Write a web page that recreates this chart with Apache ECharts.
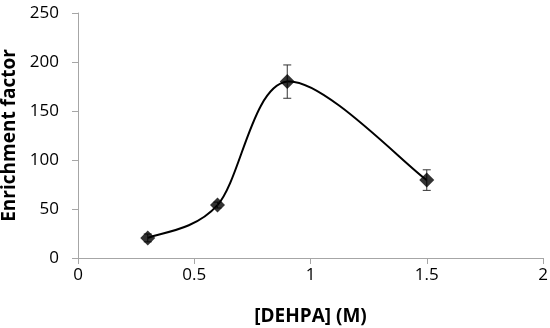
<!DOCTYPE html>
<html>
<head>
<meta charset="utf-8">
<script src="https://cdn.jsdelivr.net/npm/echarts@6/dist/echarts.min.js"></script>
<style>html,body{margin:0;padding:0;background:#fff}#c{width:550px;height:328px}</style>
</head>
<body>
<div id="c"></div>
<script>
var xValues = [0.3, 0.6, 0.9, 1.5];
var yValues = [20.5, 54, 180, 79.5];
var yErrors = [4, 3, 17, 10.5];
var xTicks = [0, 0.5, 1, 1.5, 2];
var yTicks = [0, 50, 100, 150, 200, 250];

var lineData = xValues.map(function (x, i) { return [x, yValues[i]]; });
var errData = xValues.map(function (x, i) { return [x, yValues[i] - yErrors[i], yValues[i] + yErrors[i]]; });

var chart = echarts.init(document.getElementById('c'));
var font = 'Open Sans';

// Excel-style smoothed line: cubic Bezier through the data points (Catmull-Rom tangents)
function renderCurve(params, api) {
  if (params.dataIndex !== 0) return null;
  var pts = lineData.map(function (d) { return api.coord(d); });
  var n = pts.length;
  var path = 'M' + pts[0][0] + ' ' + pts[0][1];
  for (var i = 0; i < n - 1; i++) {
    var p0 = pts[Math.max(i - 1, 0)], p1 = pts[i], p2 = pts[i + 1], p3 = pts[Math.min(i + 2, n - 1)];
    var c1x = p1[0] + (p2[0] - p0[0]) / 6, c1y = p1[1] + (p2[1] - p0[1]) / 6;
    var c2x = p2[0] - (p3[0] - p1[0]) / 6, c2y = p2[1] - (p3[1] - p1[1]) / 6;
    path += ' C' + c1x + ' ' + c1y + ' ' + c2x + ' ' + c2y + ' ' + p2[0] + ' ' + p2[1];
  }
  return { type: 'path', shape: { pathData: path }, style: { stroke: '#000', lineWidth: 2, fill: null } };
}

chart.setOption({
  animation: false,
  grid: { left: 78, right: 7, top: 13, bottom: 70, containLabel: false, outerBoundsMode: 'none' },
  xAxis: {
    type: 'value', min: xTicks[0], max: xTicks[xTicks.length - 1], interval: 0.5,
    name: '[DEHPA] (M)', nameLocation: 'middle', nameGap: 49,
    nameTextStyle: { fontFamily: font, fontSize: 19, fontWeight: 'bold', color: '#000' },
    axisLine: { lineStyle: { color: '#a6a6a6', width: 1 } },
    axisTick: { show: true, length: 6, lineStyle: { color: '#a6a6a6' } },
    axisLabel: { fontFamily: font, fontSize: 17, color: '#000', margin: 9,
      formatter: function (v) { return String(v); } },
    splitLine: { show: false }
  },
  yAxis: {
    type: 'value', min: yTicks[0], max: yTicks[yTicks.length - 1], interval: 50,
    name: 'Enrichment factor', nameLocation: 'middle', nameGap: 53,
    nameTextStyle: { fontFamily: font, fontSize: 19, fontWeight: 'bold', color: '#000' },
    axisLine: { show: true, lineStyle: { color: '#a6a6a6', width: 1 } },
    axisTick: { show: true, length: 6, lineStyle: { color: '#a6a6a6' } },
    axisLabel: { fontFamily: font, fontSize: 17, color: '#000', margin: 19 },
    splitLine: { show: false }
  },
  series: [
    { type: 'custom', data: lineData, renderItem: renderCurve, z: 2 },
    {
      type: 'custom', data: errData, z: 3,
      renderItem: function (params, api) {
        var x = api.value(0);
        var lo = api.coord([x, api.value(1)]);
        var hi = api.coord([x, api.value(2)]);
        var cw = 4;
        var style = { stroke: '#333', lineWidth: 1 };
        return {
          type: 'group',
          children: [
            { type: 'line', shape: { x1: lo[0], y1: lo[1], x2: hi[0], y2: hi[1] }, style: style },
            { type: 'line', shape: { x1: lo[0] - cw, y1: lo[1], x2: lo[0] + cw, y2: lo[1] }, style: style },
            { type: 'line', shape: { x1: hi[0] - cw, y1: hi[1], x2: hi[0] + cw, y2: hi[1] }, style: style }
          ]
        };
      }
    },
    {
      type: 'scatter', data: lineData, symbol: 'diamond', symbolSize: 15,
      itemStyle: { color: '#000' }, z: 4
    }
  ]
});
</script>
</body>
</html>
